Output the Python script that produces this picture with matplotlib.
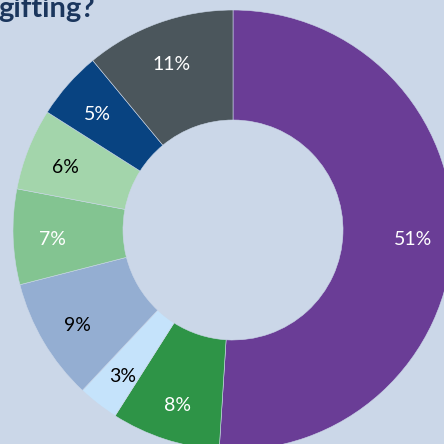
import matplotlib.pyplot as plt

labels = ["A", "B", "C", "D", "E", "F", "G", "H"]
shares = [51, 8, 3, 9, 7, 6, 5, 11]
colors = ["#6a3d96", "#2e9447", "#c5e3fb", "#94aed2",
          "#83c491", "#a3d5ab", "#084381", "#4b565c"]
text_colors = ["white", "white", "black", "black",
               "white", "black", "white", "white"]
bg = "#cbd7e8"

plt.rcParams['font.family'] = ['Lato', 'DejaVu Sans']

fig = plt.figure(figsize=(4.44, 4.44), dpi=100, facecolor=bg)
ax = fig.add_axes([0, 0, 1, 1])
ax.set_facecolor(bg)

wedges, texts, autotexts = ax.pie(
    shares, colors=colors, startangle=90, counterclock=False,
    radius=1.0, autopct='%d%%', pctdistance=0.82,
    wedgeprops=dict(width=0.5, edgecolor=bg, linewidth=0.4),
    textprops=dict(fontsize=14))
for t, c in zip(autotexts, text_colors):
    t.set_color(c)
    x, y = t.get_position()
    t.set_position((x, y - 4 / 220))

# pixel scale: 220 px per unit, centre at (233, 230) from top-left
ax.set_xlim(-233 / 220, (444 - 233) / 220)
ax.set_ylim(-(444 - 230) / 220, 230 / 220)
ax.set_aspect('auto')
ax.axis('off')

fig.text(-0.004, 1 - 17 / 444, "gifting?", fontsize=21, fontweight='bold',
         color="#1b365d", ha='left', va='baseline')

fig.savefig("out.png", dpi=100, facecolor=bg)
